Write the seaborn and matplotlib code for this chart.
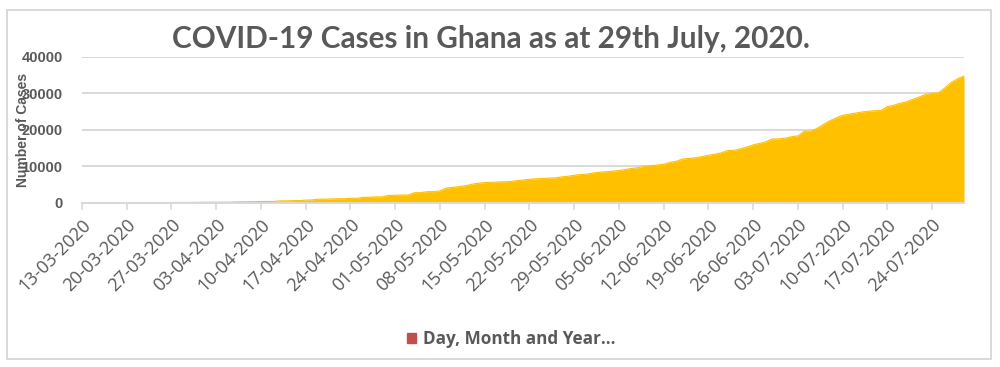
import numpy as np
import pandas as pd
import matplotlib
matplotlib.use("Agg")
import matplotlib.pyplot as plt
from matplotlib.patches import Patch, Rectangle
import seaborn as sns

# ------------- Data -------------

## Daily cumulative cases, 13-03-2020 .. 29-07-2020
start_date = "2020-03-13"
end_date = "2020-07-29"
cases = [
    2, 2, 6, 6, 7, 9, 11,                                  # 13-03
    16, 19, 21, 24, 27, 53, 68,                            # 20-03
    137, 141, 152, 152, 161, 195, 204,                     # 27-03
    205, 214, 214, 287, 313, 313, 378,                     # 03-04
    378, 378, 408, 566, 566, 636, 641,                     # 10-04
    780, 834, 1042, 1042, 1100, 1154, 1154,                # 17-04
    1279, 1279, 1550, 1550, 1671, 1671, 2074,              # 24-04
    2100, 2169, 2169, 2800, 2830, 3091, 3091,              # 01-05
    3290, 4100, 4263, 4470, 4700, 5127, 5408,              # 08-05
    5570, 5650, 5735, 5800, 5850, 6096, 6269,              # 15-05
    6480, 6617, 6683, 6808, 6850, 7117, 7303,              # 22-05
    7580, 7768, 7881, 8220, 8400, 8548, 8700,              # 29-05
    8860, 9168, 9462, 9638, 10050, 10230, 10358,           # 05-06
    10600, 11118, 11422, 12050, 12193, 12400, 12700,       # 12-06
    13060, 13330, 13717, 14340, 14400, 14800, 15300,       # 19-06
    15890, 16300, 16742, 17530, 17550, 17741, 18134,       # 26-06
    18350, 19630, 19700, 20400, 21500, 22500, 23300,       # 03-07
    24000, 24300, 24570, 24900, 25110, 25250, 25300,       # 10-07
    26390, 26750, 27300, 27700, 28400, 29000, 29700,       # 17-07
    30050, 30150, 31500, 33000, 34000, 34800,              # 24-07
]
dates = pd.date_range(start_date, end_date, freq="D")
df = pd.DataFrame({"date": dates, "cases": cases})

y_ticks = [0, 10000, 20000, 30000, 40000]
title = "COVID-19 Cases in Ghana as at 29th July, 2020."
y_label = "Number of Cases"
legend_label = "Day, Month and Year..."

# ------------- Plot -------------

sns.set_theme(style="white")
plt.rcParams["font.family"] = ["Open Sans", "DejaVu Sans"]

gold = "#FFC000"
grey_txt = "#595959"
grey_line = "#D9D9D9"

fig = plt.figure(figsize=(10, 3.67), dpi=100)
ax = fig.add_axes([0.082, 0.447, 0.882, 0.398])

sns.lineplot(data=df, x="date", y="cases", color=gold, linewidth=0.8, ax=ax)
ax.fill_between(df["date"], df["cases"], color=gold, linewidth=0)

ax.set_xlim(dates[0], dates[-1])
ax.set_ylim(0, 40000)
ax.set_yticks(y_ticks)
ax.set_yticklabels([str(v) for v in y_ticks], fontweight="bold", fontsize=10.5,
                   color=grey_txt, family="Liberation Sans")
ax.yaxis.grid(True, color=grey_line, linewidth=1.4)
ax.set_axisbelow(True)

# weekly ticks
ax.set_xticks(dates[::7])
ax.set_xticklabels([d.strftime("%d-%m-%Y") for d in dates[::7]], rotation=45,
                   ha="right", rotation_mode="anchor", fontsize=13, color=grey_txt)
ax.tick_params(axis="x", which="major", direction="out", length=5, width=1.2,
               color=grey_line, pad=4, bottom=True)
ax.tick_params(axis="y", length=0, pad=14)

for side in ["top", "right", "left"]:
    ax.spines[side].set_visible(False)
ax.spines["bottom"].set_color(grey_line)
ax.spines["bottom"].set_linewidth(1.4)

# the y label sits over the tick labels, as in the original Excel chart
ax.set_xlabel("")
ax.set_ylabel(y_label, fontweight="bold", fontsize=10, color=grey_txt,
              family="Liberation Sans")
ax.yaxis.set_label_coords(-0.059, 0.5)

fig.text(0.491, 1 - 39 / 367, title, ha="center", va="center", fontsize=21.4,
         fontweight="bold", color=grey_txt, family="Lato")

fig.legend(handles=[Patch(color="#C0504D", label=legend_label)], loc="center",
           bbox_to_anchor=(0.511, 1 - 339 / 367), frameon=False,
           handlelength=0.55, handleheight=0.55, handletextpad=0.4,
           prop={"family": "Open Sans", "weight": "bold", "size": 12.3},
           labelcolor=grey_txt)

# outer chart border
fig.patches.append(Rectangle((0.007, 0.023), 0.984, 0.951, transform=fig.transFigure,
                             fill=False, edgecolor=grey_line, linewidth=1.4))

plt.savefig("out.png", dpi=100)
